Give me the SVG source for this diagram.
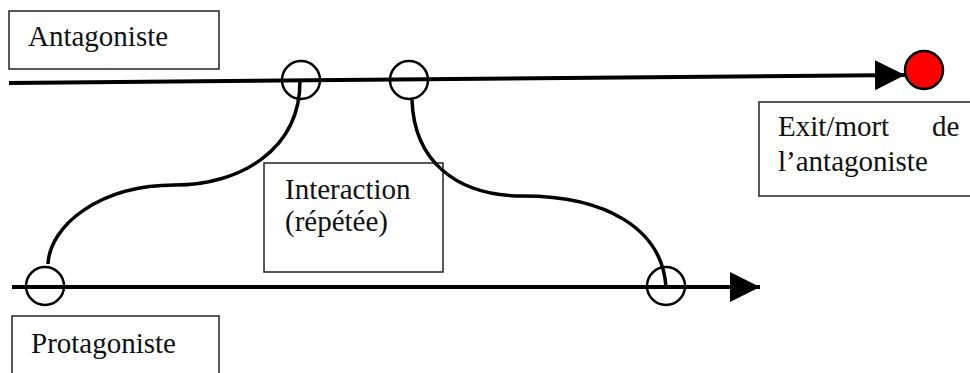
<svg xmlns="http://www.w3.org/2000/svg" width="970" height="373" viewBox="0 0 970 373">
<style>
.box{fill:none;stroke:#222;stroke-width:1.5}
.lbl{font-family:"Liberation Serif","Times New Roman",serif;font-size:29px;fill:#111}
.line{stroke:#000;stroke-width:4;fill:none}
.curve{stroke:#000;stroke-width:3.5;fill:none}
.ring{stroke:#000;stroke-width:2.5;fill:none}
</style>
<defs>
<marker id="arr" viewBox="0 0 10 10" refX="10" refY="5" markerWidth="7.5" markerHeight="7.5" markerUnits="strokeWidth" orient="auto">
<path d="M0,0 L10,5 L0,10 Z" fill="#000"/>
</marker>
</defs>
<g id="antagoniste">
<rect class="box" x="9" y="11" width="210" height="58"/>
<text class="lbl" x="28" y="46">Antagoniste</text>
</g>
<g id="protagoniste">
<rect class="box" x="12" y="316" width="207" height="60"/>
<text class="lbl" x="31" y="353">Protagoniste</text>
</g>
<g id="interaction">
<rect class="box" x="264" y="163" width="179" height="109"/>
<text class="lbl" x="285" y="199">Interaction</text>
<text class="lbl" x="285" y="231">(répétée)</text>
</g>
<g id="exit">
<rect class="box" x="759" y="102" width="215" height="94"/>
<text class="lbl" x="778" y="136">Exit/mort</text>
<text class="lbl" x="932" y="136">de</text>
<text class="lbl" x="778" y="171">l’antagoniste</text>
</g>
<g id="connectors">
<path class="line" d="M9,83 L905,75" marker-end="url(#arr)"/>
<path class="line" d="M12,287 L760,287" marker-end="url(#arr)"/>
<path class="curve" d="M300,81 C300,150 240,185 175,185 C100,185 50,225 48,264"/>
<path class="curve" d="M412,100 C414,160 455,196 523,196 C605,196 662,228 666,287"/>
</g>
<g id="ring-a1"><circle class="ring" cx="301" cy="80" r="19"/></g>
<g id="ring-a2"><circle class="ring" cx="409" cy="80" r="19"/></g>
<g id="ring-p1"><circle class="ring" cx="45" cy="286" r="19"/></g>
<g id="ring-p2"><circle class="ring" cx="666" cy="286" r="19"/></g>
<g id="exit-dot"><circle cx="924" cy="70" r="19" fill="#f00" stroke="#000" stroke-width="2.5"/></g>
</svg>
